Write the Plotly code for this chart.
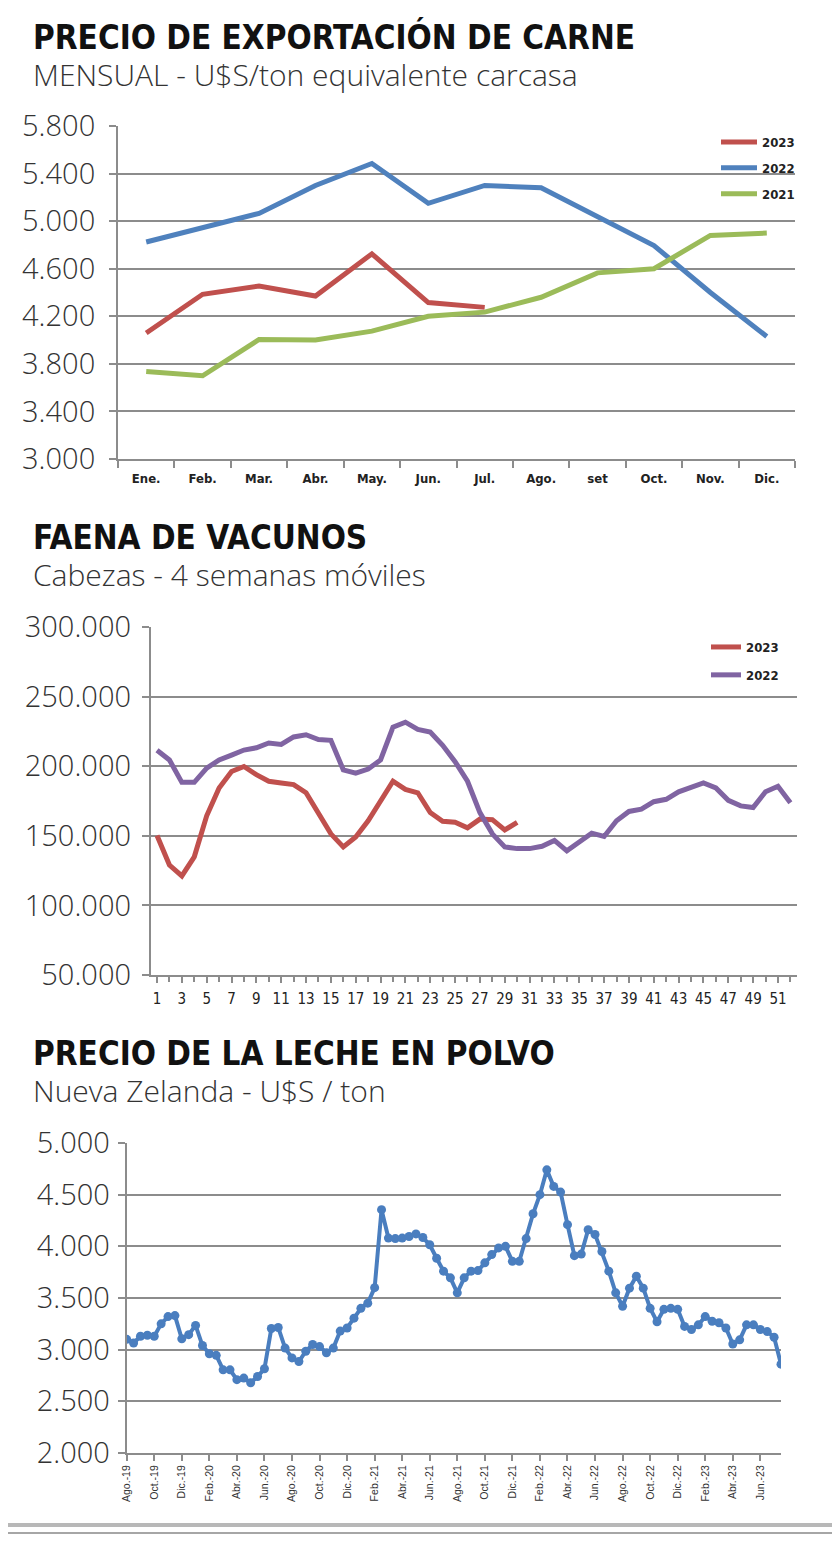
import plotly.graph_objects as go

# --- Precio de exportacion de carne (U$S/ton eq. carcasa) ---
meses = ["Ene.", "Feb.", "Mar.", "Abr.", "May.", "Jun.", "Jul.", "Ago.", "set", "Oct.", "Nov.", "Dic."]
carne_2021 = [3735, 3700, 4005, 4000, 4075, 4200, 4235, 4360, 4565, 4600, 4880, 4900]
carne_2022 = [4825, 4945, 5065, 5300, 5485, 5150, 5300, 5280, 5035, 4795, 4400, 4030]
carne_2023 = [4060, 4385, 4455, 4370, 4725, 4315, 4275]

# --- Faena de vacunos (cabezas, 4 semanas moviles) ---
semanas = list(range(1, 53))
faena_2022 = [211500, 204500, 188400, 188400, 198600, 204500, 208000, 211600, 213200, 216700,
              215600, 221000, 222600, 219100, 218600, 197400, 195000, 197900, 204500, 228000,
              231600, 226400, 224500, 215000, 203300, 189200, 166700, 151400, 142000, 140800,
              140800, 142500, 146700, 139200, 145500, 151900, 149500, 160800, 167500, 169100,
              174500, 176200, 181600, 184400, 188000, 184400, 175500, 171500, 170300, 181600,
              185600, 173800]
faena_2023 = [150200, 129000, 121200, 134900, 164400, 184400, 196200, 199800, 193900, 189200,
              188000, 186800, 180900, 165600, 151400, 142000, 149100, 160800, 175000, 189200,
              183300, 180900, 166700, 160400, 159700, 155700, 162000, 161600, 154200, 159700]

# --- Precio de la leche en polvo, Nueva Zelanda (U$S/ton), dos remates por mes ---
leche_precio = [3100, 3065, 3130, 3140, 3130, 3250, 3320, 3330, 3105, 3145,
                3235, 3040, 2960, 2945, 2805, 2805, 2710, 2725, 2680, 2740,
                2815, 3205, 3215, 3015, 2920, 2885, 2985, 3050, 3030, 2970,
                3015, 3180, 3210, 3305, 3400, 3450, 3600, 4355, 4080, 4075,
                4080, 4095, 4120, 4085, 4015, 3885, 3760, 3695, 3550, 3695,
                3760, 3765, 3840, 3920, 3985, 4000, 3855, 3855, 4075, 4315,
                4500, 4740, 4580, 4525, 4210, 3910, 3925, 4160, 4115, 3950,
                3760, 3550, 3420, 3595, 3710, 3595, 3400, 3270, 3390, 3400,
                3390, 3225, 3195, 3240, 3320, 3275, 3260, 3210, 3055, 3095,
                3240, 3240, 3195, 3175, 3120, 2860]
leche_idx = list(range(len(leche_precio)))
leche_ticks = ["Ago.-19", "Oct.-19", "Dic.-19", "Feb.-20", "Abr.-20", "Jun.-20",
               "Ago.-20", "Oct.-20", "Dic.-20", "Feb.-21", "Abr.-21", "Jun.-21",
               "Ago.-21", "Oct.-21", "Dic.-21", "Feb.-22", "Abr.-22", "Jun.-22",
               "Ago.-22", "Oct.-22", "Dic.-22", "Feb.-23", "Abr.-23", "Jun.-23"]

W, H = 840, 1550
OFF = 8  # page body margin of the html
RED, BLUE, GREEN, PURPLE = "#c0504d", "#4f81bd", "#9bbb59", "#8064a2"
GRID = "#8c8c8c"
LIGHT = "Open Sans"
NARROW = "DejaVu Sans Condensed, sans-serif"


def px_x(p):
    return (p - OFF) / W


def px_y(p):
    return 1 - (p - OFF) / H


fig = go.Figure()

# 1. carne (series order as in the legend: 2023, 2022, 2021)
for name, vals, col in [("2023", carne_2023, RED), ("2022", carne_2022, BLUE), ("2021", carne_2021, GREEN)]:
    fig.add_trace(go.Scatter(x=meses[:len(vals)], y=vals, mode="lines", name=name,
                             line=dict(color=col, width=5), legendgroup=name,
                             xaxis="x", yaxis="y", legend="legend"))

# 2. faena
for name, vals, col in [("2023", faena_2023, RED), ("2022", faena_2022, PURPLE)]:
    fig.add_trace(go.Scatter(x=semanas[:len(vals)], y=vals, mode="lines", name=name,
                             line=dict(color=col, width=5), legendgroup="f" + name,
                             xaxis="x2", yaxis="y2", legend="legend2"))

# 3. leche
fig.add_trace(go.Scatter(x=leche_idx, y=leche_precio, mode="lines+markers", showlegend=False,
                         line=dict(color="#4a7ebf", width=4),
                         marker=dict(color="#4a7ebf", size=9),
                         xaxis="x3", yaxis="y3"))

ytick_font = dict(family=LIGHT, size=29, color="#333", weight=300)
common_y = dict(showgrid=True, gridcolor=GRID, gridwidth=2, showline=True, linecolor=GRID,
                linewidth=2, ticks="outside", ticklen=7, tickcolor=GRID, tickwidth=2,
                tickfont=ytick_font, zeroline=False, fixedrange=True, automargin=False,
                tickformat=",d")

fig.update_layout(
    template="none",
    width=W, height=H, autosize=False,
    margin=dict(l=0, r=0, t=0, b=0, pad=0),
    paper_bgcolor="white", plot_bgcolor="white",
    showlegend=True,
    xaxis=dict(domain=[px_x(118), px_x(795)], anchor="y", type="category", automargin=False,
               range=[-0.5, 11.5], tickson="boundaries", ticks="outside", ticklen=7,
               tickcolor=GRID, tickwidth=2, showline=True, linecolor=GRID, linewidth=2,
               showgrid=False, ticklabelstandoff=6,
               tickfont=dict(family=NARROW, size=13, color="#222", weight="bold")),
    yaxis=dict(domain=[px_y(459), px_y(126)], anchor="x", range=[3000, 5800],
               tickvals=list(range(3000, 5801, 400)), ticklabelstandoff=8, **common_y),
    xaxis2=dict(domain=[px_x(150.8), px_x(796.6)], anchor="y2", range=[0.5, 52.5], automargin=False,
                tickvals=semanas[::2], ticks="outside", ticklen=6, tickcolor=GRID, tickwidth=1.5,
                minor=dict(tickvals=semanas, ticks="outside", ticklen=5, tickcolor=GRID),
                showline=True, linecolor=GRID, linewidth=2, showgrid=False, ticklabelstandoff=3,
                tickfont=dict(family=NARROW, size=15, color="#222")),
    yaxis2=dict(domain=[px_y(975), px_y(627)], anchor="x2", range=[50000, 300000],
                tickvals=list(range(50000, 300001, 50000)), ticklabelstandoff=5, **common_y),
    xaxis3=dict(domain=[px_x(126.7), px_x(781)], anchor="y3", range=[0, len(leche_precio) - 1],
                automargin=False,
                tickvals=leche_idx[::4][:len(leche_ticks)], ticktext=leche_ticks, tickangle=-90,
                ticks="outside", ticklen=6, tickcolor=GRID, tickwidth=1.5,
                showline=True, linecolor=GRID, linewidth=2, showgrid=False,
                tickfont=dict(family="Liberation Sans, Arial", size=10.5, color="#333")),
    yaxis3=dict(domain=[px_y(1453), px_y(1143)], anchor="x3", range=[2000, 5000],
                tickvals=list(range(2000, 5001, 500)), ticklabelstandoff=2, **common_y),
    separators=",.",
    legend=dict(x=px_x(716), y=px_y(127), xanchor="left", yanchor="top",
                traceorder="grouped", tracegroupgap=6, itemwidth=36,
                font=dict(family=NARROW, size=13, color="#222", weight="bold"),
                bgcolor="rgba(0,0,0,0)"),
    legend2=dict(x=px_x(706), y=px_y(632), xanchor="left", yanchor="top",
                 traceorder="grouped", tracegroupgap=8, itemwidth=30,
                 font=dict(family=NARROW, size=13, color="#222", weight="bold"),
                 bgcolor="rgba(0,0,0,0)"),
)

# titles and subtitles
titles = [
    ("PRECIO DE EXPORTACIÓN DE CARNE", 37, "MENSUAL - U$S/ton equivalente carcasa", 74),
    ("FAENA DE VACUNOS", 537, "Cabezas - 4 semanas móviles", 574),
    ("PRECIO DE LA LECHE EN POLVO", 1053, "Nueva Zelanda - U$S / ton", 1090),
]
for t, ty, s, sy in titles:
    fig.add_annotation(text=t, x=px_x(31), y=px_y(ty), xref="paper", yref="paper",
                       xanchor="left", yanchor="middle", showarrow=False,
                       font=dict(family=NARROW, size=33, color="#111", weight="bold"))
    fig.add_annotation(text=s, x=px_x(31), y=px_y(sy), xref="paper", yref="paper",
                       xanchor="left", yanchor="middle", showarrow=False,
                       font=dict(family=LIGHT, size=30, color="#333", weight=300))

# separator lines at the bottom of the page
fig.add_shape(type="line", xref="paper", yref="paper", x0=0, x1=1, y0=px_y(1525), y1=px_y(1525),
              line=dict(color="#b8b8b8", width=4))
fig.add_shape(type="line", xref="paper", yref="paper", x0=0, x1=1, y0=px_y(1533), y1=px_y(1533),
              line=dict(color="#888", width=1.5))

fig.write_html("out.html")
